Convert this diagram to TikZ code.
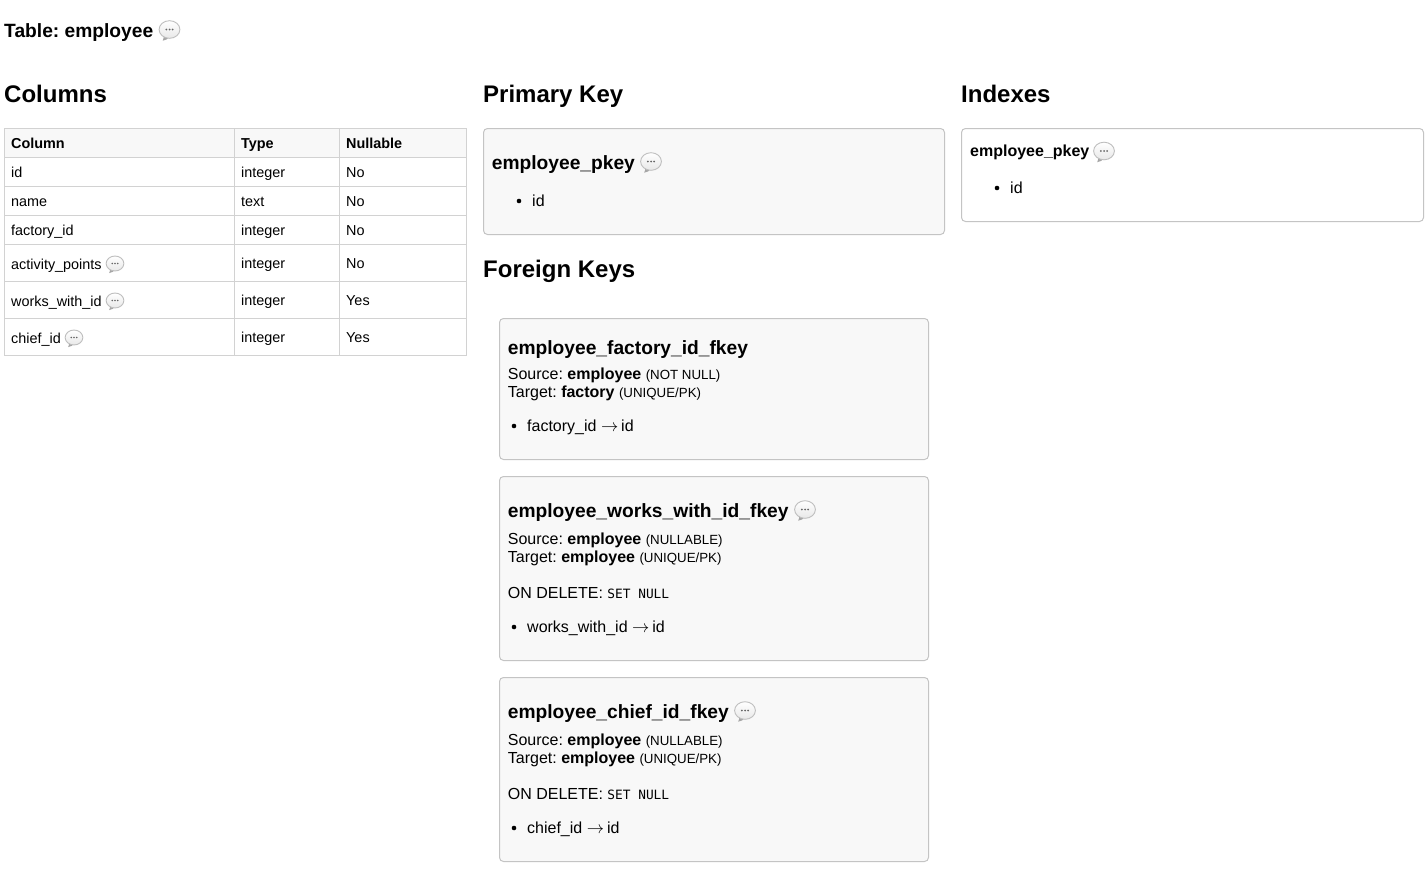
\documentclass[tikz,border=0pt]{standalone}
\usepackage{fontspec}
\setmainfont{Liberation Sans}
\newfontfamily\smallmono{DejaVu Sans Mono}
\definecolor{cellline}{HTML}{D2D2D2}
\definecolor{boxline}{HTML}{C4C4C4}
\definecolor{panel}{HTML}{F8F8F8}
\definecolor{bubbleline}{HTML}{BEBEBE}
\newcommand{\fsz}[1]{\fontsize{#1}{#1}\selectfont\frenchspacing}
\newcommand{\arr}{$\rightarrow$\kern-1.5pt}
\tikzset{
  x=1pt,y=-1pt,
  txt/.style={inner sep=0pt,anchor=base west,text=black},
  title/.style={txt,font=\fsz{19.2}\bfseries},
  heading/.style={txt,font=\fsz{24}\bfseries},
  keyname/.style={txt,font=\fsz{19.2}\bfseries},
  idxname/.style={txt,font=\fsz{16}\bfseries},
  cell/.style={txt,font=\fsz{14.4}},
  headcell/.style={txt,font=\fsz{14.4}\bfseries},
  body/.style={txt,font=\fsz{16}},
  panelbox/.style={draw=boxline,fill=panel,line width=1pt,rounded corners=4pt},
  plainbox/.style={draw=boxline,fill=white,line width=1pt,rounded corners=4pt},
  grid/.style={draw=cellline,line width=1pt},
  dotitem/.style={circle,fill=black,inner sep=0pt,minimum size=4.6pt},
  pics/bubble/.style={code={
    \begin{scope}[scale=#1]
      \fill[black!35] (-6.5,4) .. controls (-5.5,8) and (-6,10) .. (-6.8,11.2) .. controls (-4,10.8) and (-1,9.5) .. (0,7) -- cycle;
      \shade[top color=white,bottom color=black!9,draw=bubbleline,line width=0.9pt] (0,0) circle [x radius=10.4,y radius=8.8];
      \foreach \dx in {-3.2,0,3.2}{\fill[black!60] (\dx,0) circle [radius=1];}
    \end{scope}
  }},
  pics/bubble/.default=1
}
\begin{document}
\begin{tikzpicture}
\useasboundingbox (0,0) rectangle (1426,878);
\fill[white] (0,0) rectangle (1426,878);

% titles
\node[title] (title) at (4,37) {Table: employee};
\pic at (169.5,29.5) {bubble};
\node[heading] (hcol) at (4,102) {Columns};
\node[heading] (hpk) at (483,102) {Primary Key};
\node[heading] (hidx) at (961,102) {Indexes};
\node[heading] (hfk) at (483,277) {Foreign Keys};

% table
\fill[panel] (4.5,128.5) rectangle (466.5,157.5);
\draw[grid] (4.5,128.5) rectangle (466.5,355.5);
\foreach \yy in {157.5,186.5,215.5,244.5,281.5,318.5}{\draw[grid] (4.5,\yy) -- (466.5,\yy);}
\foreach \xx in {234.5,339.5}{\draw[grid] (\xx,128.5) -- (\xx,355.5);}

\node[headcell] (c0a) at (11,148) {Column};
\node[headcell] (c0b) at (241,148) {Type};
\node[headcell] (c0c) at (346,148) {Nullable};
\node[cell] (c1a) at (11,177) {id};
\node[cell] (c1b) at (241,177) {integer};
\node[cell] (c1c) at (346,177) {No};
\node[cell] (c2a) at (11,206) {name};
\node[cell] (c2b) at (241,206) {text};
\node[cell] (c2c) at (346,206) {No};
\node[cell] (c3a) at (11,235) {factory\_id};
\node[cell] (c3b) at (241,235) {integer};
\node[cell] (c3c) at (346,235) {No};
\node[cell] (c4a) at (11,269) {activity\_points};
\node[cell] (c4b) at (241,268) {integer};
\node[cell] (c4c) at (346,268) {No};
\pic at (115,263.5) {bubble=.85};
\node[cell] (c5a) at (11,306) {works\_with\_id};
\node[cell] (c5b) at (241,305) {integer};
\node[cell] (c5c) at (346,305) {Yes};
\pic at (115,300.5) {bubble=.85};
\node[cell] (c6a) at (11,343) {chief\_id};
\node[cell] (c6b) at (241,342) {integer};
\node[cell] (c6c) at (346,342) {Yes};
\pic at (74,337.5) {bubble=.85};

% primary key
\draw[panelbox] (483.5,128.5) rectangle (944.5,234.5);
\node[keyname] (pkn) at (491.7,169) {employee\_pkey};
\pic at (651,161.5) {bubble};
\node[dotitem] (pkd) at (519,201) {};
\node[body] (pki) at (532,206) {id};

% indexes
\draw[plainbox] (961.5,128.5) rectangle (1423.5,221.5);
\node[idxname] (ixn) at (970,156.6) {employee\_pkey};
\pic at (1104,151) {bubble};
\node[dotitem] (ixd) at (997,188) {};
\node[body] (ixi) at (1010,193) {id};

% fk 1
\draw[panelbox] (499.5,318.5) rectangle (928.5,459.5);
\node[keyname] (f1n) at (507.7,354) {employee\_factory\_id\_fkey};
\node[body] (f1s) at (507.7,379) {Source: \textbf{employee} {\fsz{13.3}(NOT NULL)}};
\node[body] (f1t) at (507.7,397) {Target: \textbf{factory} {\fsz{13.3}(UNIQUE/PK)}};
\node[dotitem] (f1d) at (514,426) {};
\node[body] (f1i) at (527,431) {factory\_id \arr{} id};

% fk 2
\draw[panelbox] (499.5,476.5) rectangle (928.5,660.5);
\node[keyname] (f2n) at (507.7,517) {employee\_works\_with\_id\_fkey};
\pic at (805,509.5) {bubble};
\node[body] (f2s) at (507.7,544) {Source: \textbf{employee} {\fsz{13.3}(NULLABLE)}};
\node[body] (f2t) at (507.7,562) {Target: \textbf{employee} {\fsz{13.3}(UNIQUE/PK)}};
\node[body] (f2o) at (507.7,598) {ON DELETE: {\smallmono\fsz{12.8}SET NULL}};
\node[dotitem] (f2d) at (514,627) {};
\node[body] (f2i) at (527,632) {works\_with\_id \arr{} id};

% fk 3
\draw[panelbox] (499.5,677.5) rectangle (928.5,861.5);
\node[keyname] (f3n) at (507.7,718) {employee\_chief\_id\_fkey};
\pic at (745,710.5) {bubble};
\node[body] (f3s) at (507.7,745) {Source: \textbf{employee} {\fsz{13.3}(NULLABLE)}};
\node[body] (f3t) at (507.7,763) {Target: \textbf{employee} {\fsz{13.3}(UNIQUE/PK)}};
\node[body] (f3o) at (507.7,799) {ON DELETE: {\smallmono\fsz{12.8}SET NULL}};
\node[dotitem] (f3d) at (514,828) {};
\node[body] (f3i) at (527,833) {chief\_id \arr{} id};
\end{tikzpicture}
\end{document}
